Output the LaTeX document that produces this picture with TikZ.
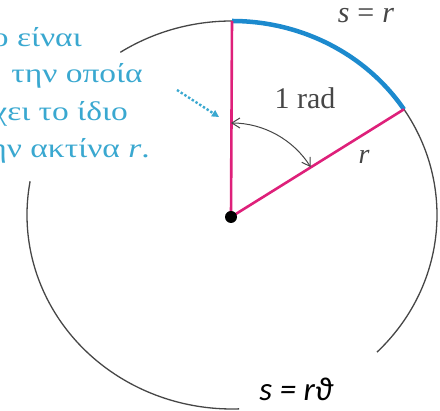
\documentclass[tikz,border=0pt]{standalone}
\usepackage{fontspec}
\setmainfont{Liberation Serif}
\newfontfamily\notefont[FakeStretch=1.24]{Liberation Serif}
\newfontfamily\calib{Carlito}
\usetikzlibrary{arrows.meta,calc}
\definecolor{radpink}{RGB}{222,32,122}
\definecolor{arcblue}{RGB}{28,138,206}
\definecolor{notecyan}{RGB}{58,168,208}
\definecolor{inkgray}{RGB}{70,70,70}
\begin{document}
\begin{tikzpicture}[x=1pt,y=1pt,
  radius line/.style={radpink,line width=2.6pt},
  note/.style={notecyan,font=\notefont\fontsize{27}{30}\selectfont,anchor=base east,inner sep=0pt},
  lbl/.style={inkgray,inner sep=0pt}]
\useasboundingbox (0,0) rectangle (440,411);
\clip (0,0) rectangle (440,411);
% circle (ellipse) with gaps
\coordinate (E) at (232,196);
\coordinate (O) at (231,194);
\coordinate (A) at ($(E)+(90:205 and 194)$);
\coordinate (B) at ($(E)+(33:205 and 194)$);
\draw[inkgray,line width=1.3pt] (E) ++(-45:205 and 194) arc[start angle=-45,end angle=123,x radius=205,y radius=194];
\draw[inkgray,line width=1.3pt] (E) ++(170:205 and 194) arc[start angle=170,end angle=272,x radius=205,y radius=194];
% arc of length r
\draw[arcblue,line width=4.5pt] (A) arc[start angle=90,end angle=33,x radius=205,y radius=194];
\node[lbl,anchor=base,font=\fontsize{30}{32}\selectfont] (sr) at (366,388) {\textit{s}\hspace{8pt}=\hspace{8pt}\textit{r}};
% two radii
\draw[radius line] (O) -- (A);
\draw[radius line] (O) -- (B);
\fill (O) circle[radius=6];
\node[lbl,font=\fontsize{28}{30}\selectfont\itshape] (rlab) at (364,254) {r};
% 1 rad angle
\coordinate (a1) at ($(O)+(90:94)$);
\draw[inkgray,line width=1pt,{Straight Barb[length=8pt,width=10pt]}-{Straight Barb[length=8pt,width=10pt]}] (a1) arc[start angle=90,end angle=32,radius=94];
\node[lbl,font=\fontsize{30}{32}\selectfont] (rad) at (305,313) {1 rad};
% note
\node[note] (n1) at (82,364) {ο είναι};
\node[note] (n2) at (143,328) {την οποία};
\node[note] (n3) at (128,290) {χει το ίδιο};
\node[note] (n4) at (150,253) {ην ακτίνα \textit{r}.};
\coordinate (p) at (177,321);
\coordinate (q) at (219,294);
\draw[notecyan,line width=2.4pt,dotted,-{Triangle[length=7pt,width=7pt]}] (p) -- (q);
% formula
\node[inner sep=0pt,font=\calib\itshape\fontsize{33}{35}\selectfont] (f) at (296,22) {s = rϑ};
\end{tikzpicture}
\end{document}
